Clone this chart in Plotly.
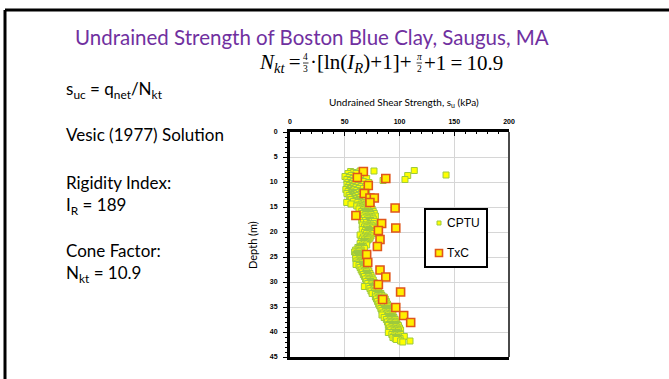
import plotly.graph_objects as go

# ---------------------------------------------------------------------------
# Data: undrained shear strength profile, Boston Blue Clay (Saugus, MA)
# ---------------------------------------------------------------------------
# CPTU-derived strength, s_uc = q_net / N_kt  (one row per sounding depth)
cptu_levels_m = [
    7.7, 7.8, 7.9, 8.1, 8.3, 8.6, 8.7, 8.9, 9.1, 9.3, 9.5, 9.7, 9.9,
    10.1, 10.3, 10.5, 10.7, 10.9, 11.1, 11.3, 11.5, 11.7, 11.9,
    12.1, 12.3, 12.5, 12.7, 12.9, 13.1, 13.3, 13.5, 13.7, 13.9,
    14.1, 14.4, 14.6, 14.8, 15.0, 15.2, 15.4, 15.6, 15.9,
    16.1, 16.3, 16.5, 16.8, 17.0, 17.2, 17.4, 17.7, 17.9,
    18.1, 18.3, 18.6, 18.8, 19.0, 19.2, 19.5, 19.7, 19.9,
    20.1, 20.3, 20.6, 20.8, 21.0, 21.2, 21.4, 21.6, 21.9,
    22.1, 22.3, 22.6, 22.9, 23.1, 23.3, 23.6, 23.8, 24.0,
    24.3, 24.5, 24.7, 24.9, 25.1, 25.3, 25.6, 25.8, 26.0,
    26.2, 26.5, 26.7, 26.9, 27.1, 27.3, 27.6, 27.8, 28.0,
    28.3, 28.5, 28.7, 28.9, 29.2, 29.4, 29.6, 29.9, 30.1,
    30.3, 30.6, 30.9, 31.1, 31.3, 31.6, 31.8, 32.0, 32.3,
    32.5, 32.7, 33.0, 33.2, 33.4, 33.7, 33.9, 34.1, 34.4,
    34.6, 34.8, 35.0, 35.3, 35.5, 35.7, 35.9, 36.2, 36.4,
    36.6, 36.9, 37.1, 37.3, 37.5, 37.8, 38.0, 38.2, 38.5,
    38.7, 38.9, 39.2, 39.4, 39.6, 39.8, 40.1, 40.3, 40.5,
    40.8, 40.9, 41.1, 41.3, 41.5, 41.8, 42.0,
]
cptu_su_kpa = [
    [113.5], [64, 76.7], [55.4], [58], [60.3, 53], [142.5], [107.5, 56],
    [50.2, 62, 68], [54, 66], [57.5, 70], [52, 60, 105], [55, 64, 85], [58, 67],
    [53, 61, 72], [56, 63], [52, 59, 66], [54, 62], [57, 65, 69],
    [53, 60], [55, 63, 67], [51, 58], [54, 61, 70], [53, 64],
    [56, 60, 66], [52, 58], [56, 63, 69], [54, 60], [57, 65, 71],
    [55, 62], [59, 67], [56, 63, 70], [60, 66], [58, 64, 72],
    [51.8, 62, 68], [55.7, 65, 70], [63, 69], [61, 67, 74], [64, 70],
    [66, 72], [63, 69, 75], [67, 71], [65.5, 70, 76],
    [68, 73], [66, 71, 77], [69, 74], [67, 72, 78], [70, 75],
    [68, 73], [71, 76], [65.5, 69, 74], [72, 77],
    [67, 70], [73, 76], [66, 69.4, 74], [71, 75], [68, 73],
    [70, 76], [66, 72], [69, 74], [71, 75],
    [68, 73], [70, 76], [64, 72], [69, 74], [67, 71],
    [70, 73], [66, 72], [68, 71], [65, 70],
    [67, 69], [64, 68], [66, 70], [64, 67], [62, 66],
    [63, 68], [60, 65], [62, 64], [59, 63],
    [61, 62.4], [60, 64], [60.3, 63], [61, 65], [62, 66],
    [60, 64], [63, 67], [61, 65], [64, 68],
    [62, 66], [60.3, 65, 69], [63, 67], [66, 70], [64, 68],
    [67, 71], [65, 69], [68, 72], [66, 70],
    [69, 73], [67, 71], [70, 74], [68, 72], [71, 75],
    [69, 73], [72, 76], [70, 74], [73, 77],
    [71, 75], [74, 78], [67.9, 72, 76], [75, 79], [73, 77],
    [76, 80], [74, 78], [77, 81], [75, 79, 83],
    [78, 82], [80, 84], [78, 82, 86], [81, 85], [79, 83, 87],
    [82, 86], [80, 84, 88], [83, 87], [81, 85, 89],
    [84, 88], [82, 86, 90], [85, 89], [83, 87, 91], [86, 90],
    [84, 88, 92], [87, 91], [85, 89, 93], [88, 92],
    [84, 90, 94], [89, 93], [86, 91, 95], [90, 94], [88, 92, 96],
    [91, 95], [89, 93, 97], [92, 96], [90, 94, 98],
    [89.8, 95, 99], [93, 97], [91, 96, 100], [94, 98], [92, 97, 101],
    [95, 99], [89.8, 94, 98], [96, 100], [93, 97, 101],
    [95, 99], [104.4], [94, 98], [100.5, 96], [99, 97], [109.6, 101], [103],
]

# Triaxial compression (TxC) laboratory tests
txc_depth_m = [7.9, 9.1, 9.3, 10.7, 12.3, 13.2, 13.2, 14.1, 15.2, 16.7,
               18.3, 19.2, 19.7, 21.5, 22.9, 24.5, 26.1, 27.6, 29.0, 30.5,
               32.0, 33.5, 35.1, 36.7, 38.1]
txc_su_kpa = [67, 61.5, 87.5, 71.5, 67.8, 73, 77, 73, 96, 60.2,
              83.7, 96.6, 80.7, 82.2, 79.8, 70, 71, 82.2, 87.5, 80.7,
              101, 84.6, 96.6, 103.8, 110.2]

# Axis ticks
su_ticks = [0, 50, 100, 150, 200]
depth_ticks = [0, 5, 10, 15, 20, 25, 30, 35, 40, 45]

# Flatten the CPTU rows into point lists
cptu_x, cptu_y = [], []
for d, row in zip(cptu_levels_m, cptu_su_kpa):
    for v in row:
        cptu_x.append(v)
        cptu_y.append(d)

# ---------------------------------------------------------------------------
# Page geometry (pixels) and helpers to place slide items in paper space
# ---------------------------------------------------------------------------
W, H = 669, 379
PL, PR, PT, PB = 290, 509, 132, 357


def fx(px):
    return (px - PL) / (PR - PL)


def fy(py):
    return (PB - py) / (PB - PT)


CPTU_FILL, CPTU_EDGE = "#FFFF00", "#9CC93E"
TXC_FILL, TXC_EDGE = "#FFEE00", "#E0561B"
BODY_FONT = "Lato"
SERIF = "Liberation Serif"

fig = go.Figure()
fig.add_trace(go.Scatter(
    x=cptu_x, y=cptu_y, mode="markers", name="CPTU", showlegend=False,
    marker=dict(symbol="square", size=6, color=CPTU_FILL,
                line=dict(color=CPTU_EDGE, width=1)),
))
fig.add_trace(go.Scatter(
    x=txc_su_kpa, y=txc_depth_m, mode="markers", name="TxC", showlegend=False,
    marker=dict(symbol="square", size=8, color=TXC_FILL,
                line=dict(color=TXC_EDGE, width=1.6)),
))

tick_font = dict(family="Liberation Sans", size=7, color="black", weight="bold")

fig.update_xaxes(
    range=[0, 200], side="top", tickvals=su_ticks, ticktext=[str(t) for t in su_ticks],
    showgrid=True, gridcolor="#d6d6d6", gridwidth=1, zeroline=False,
    showline=True, linecolor="black", linewidth=3, mirror=True,
    ticks="inside", ticklen=4, tickwidth=1, tickcolor="black",
    minor=dict(dtick=10, ticks="inside", ticklen=2, tickcolor="black", showgrid=False),
    tickfont=tick_font, ticklabelstandoff=2,
)
fig.update_yaxes(
    range=[45, 0], tickvals=depth_ticks, ticktext=[str(t) for t in depth_ticks],
    showgrid=True, gridcolor="#d6d6d6", gridwidth=1, zeroline=False,
    showline=True, linecolor="black", linewidth=3, mirror=False,
    ticks="outside", ticklen=4, tickwidth=1, tickcolor="black",
    minor=dict(dtick=1, ticks="outside", ticklen=2, tickcolor="black", showgrid=False),
    tickfont=tick_font, ticklabelstandoff=4,
)

shapes = [
    # right-hand frame of the plot
    dict(type="line", xref="paper", yref="paper", x0=1, x1=1, y0=0, y1=1,
         line=dict(color="#4a4a4a", width=2)),
    # slide frame (top and left edges)
    dict(type="line", xref="paper", yref="paper", x0=fx(5), x1=fx(W + 5),
         y0=fy(10), y1=fy(10), line=dict(color="black", width=3)),
    dict(type="line", xref="paper", yref="paper", x0=fx(5), x1=fx(5),
         y0=fy(10), y1=fy(H + 5), line=dict(color="black", width=3)),
    # legend box
    dict(type="rect", xref="paper", yref="paper", x0=fx(425), x1=fx(487),
         y0=fy(267), y1=fy(209), line=dict(color="black", width=2),
         fillcolor="white", layer="above"),
    # legend samples
    dict(type="rect", xref="paper", yref="paper", x0=fx(437), x1=fx(441),
         y0=fy(225), y1=fy(221), line=dict(color=CPTU_EDGE, width=1),
         fillcolor=CPTU_FILL, layer="above"),
    dict(type="rect", xref="paper", yref="paper", x0=fx(435.5), x1=fx(442.5),
         y0=fy(256.5), y1=fy(249.5), line=dict(color=TXC_EDGE, width=1.6),
         fillcolor=TXC_FILL, layer="above"),
    # fraction bars in the cone-factor equation
    dict(type="line", xref="paper", yref="paper", x0=fx(303), x1=fx(308.5),
         y0=fy(63), y1=fy(63), line=dict(color="black", width=0.8)),
    dict(type="line", xref="paper", yref="paper", x0=fx(416.5), x1=fx(422),
         y0=fy(63), y1=fy(63), line=dict(color="black", width=0.8)),
]


def note(text, px, py, size, family=BODY_FONT, color="black", xanchor="left", **kw):
    return dict(text=text, x=fx(px), y=fy(py), xref="paper", yref="paper",
                xanchor=xanchor, yanchor="middle", showarrow=False,
                font=dict(family=family, size=size, color=color), **kw)


annotations = [
    note("Undrained Strength of Boston Blue Clay, Saugus, MA", 73, 37, 20.5, color="#7030A0"),
    # N_kt = 4/3·[ln(I_R)+1] + π/2 + 1 = 10.9
    note("<i>N</i><sub><i>kt</i></sub>\u2009=", 302.5, 63, 21, family=SERIF, xanchor="right"),
    note("4<br>3", 305.8, 63, 9.5, family=SERIF, xanchor="center", borderpad=0),
    note("·[ln(<i>I</i><sub><i>R</i></sub>)+1]+", 307.5, 63, 21, family=SERIF),
    note("<i>π</i><br>2", 419.3, 63, 9.5, family=SERIF, xanchor="center", borderpad=0),
    note("+1\u2009=\u200910.9", 421.5, 63, 21, family=SERIF),
    # slide text
    note("s<sub>uc</sub> = q<sub>net</sub>/N<sub>kt</sub>", 64, 90, 17),
    note("Vesic (1977) Solution", 64, 134, 17),
    note("Rigidity Index:", 64, 182, 17),
    note("I<sub>R</sub> = 189", 64, 206, 17),
    note("Cone Factor:", 64, 250, 17),
    note("N<sub>kt</sub> = 10.9", 64, 274, 17),
    # chart labels
    note("Undrained Shear Strength, s<sub>u</sub> (kPa)", 404, 102, 10, xanchor="center"),
    note("Depth (m)", 252, 245, 11, xanchor="center", textangle=-90),
    # legend text
    note("CPTU", 445, 223, 12, family="Liberation Sans"),
    note("TxC", 445, 253, 12, family="Liberation Sans"),
]

fig.update_layout(
    width=W, height=H,
    margin=dict(l=PL, r=W - PR, t=PT, b=H - PB, pad=0),
    paper_bgcolor="white", plot_bgcolor="white",
    showlegend=False,
    shapes=shapes, annotations=annotations,
)

fig.write_html("out.html")
